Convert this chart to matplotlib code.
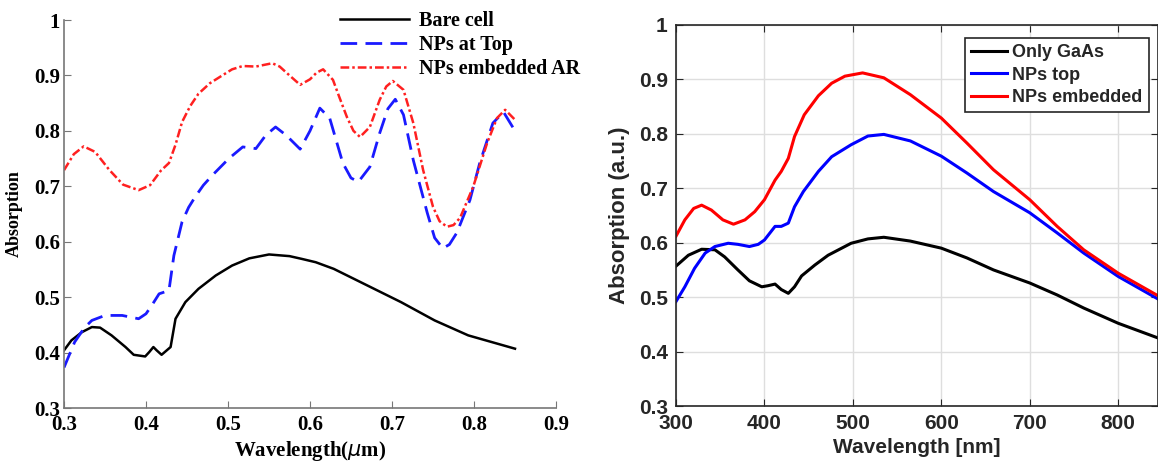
#!/usr/bin/env python3

import matplotlib
matplotlib.use("Agg")
import matplotlib.pyplot as plt

# left panel: wavelength in um
bare_x = [0.300, 0.309, 0.322, 0.334, 0.344, 0.358, 0.375, 0.385, 0.399, 0.404,
          0.409, 0.413, 0.419, 0.430, 0.436, 0.448, 0.464, 0.485, 0.505, 0.526,
          0.550, 0.575, 0.590, 0.607, 0.629, 0.670, 0.711, 0.752, 0.793, 0.850]
bare_y = [0.404, 0.422, 0.437, 0.446, 0.445, 0.431, 0.410, 0.396, 0.393, 0.401,
          0.410, 0.404, 0.396, 0.410, 0.461, 0.491, 0.515, 0.539, 0.557, 0.570,
          0.577, 0.574, 0.569, 0.563, 0.551, 0.521, 0.491, 0.458, 0.431, 0.407]

top_x = [0.300, 0.313, 0.325, 0.334, 0.350, 0.371, 0.391, 0.400, 0.407, 0.416,
         0.428, 0.434, 0.444, 0.452, 0.460, 0.470, 0.481, 0.501, 0.518, 0.534,
         0.546, 0.558, 0.571, 0.588, 0.600, 0.612, 0.624, 0.640, 0.650, 0.659,
         0.673, 0.685, 0.695, 0.704, 0.714, 0.726, 0.743, 0.752, 0.762, 0.770,
         0.779, 0.795, 0.807, 0.823, 0.836, 0.850]
top_y = [0.373, 0.419, 0.445, 0.458, 0.467, 0.467, 0.461, 0.470, 0.485, 0.506,
         0.512, 0.575, 0.636, 0.662, 0.681, 0.702, 0.720, 0.750, 0.771, 0.768,
         0.792, 0.807, 0.792, 0.767, 0.800, 0.841, 0.823, 0.742, 0.715, 0.708,
         0.735, 0.796, 0.840, 0.857, 0.829, 0.747, 0.652, 0.607, 0.588, 0.595,
         0.616, 0.675, 0.742, 0.814, 0.834, 0.800]

emb_x = [0.300, 0.312, 0.324, 0.338, 0.355, 0.372, 0.391, 0.405, 0.418, 0.428,
         0.436, 0.444, 0.454, 0.464, 0.478, 0.493, 0.505, 0.518, 0.534, 0.554,
         0.563, 0.575, 0.588, 0.600, 0.608, 0.616, 0.628, 0.636, 0.645, 0.653,
         0.661, 0.673, 0.685, 0.693, 0.701, 0.714, 0.726, 0.738, 0.750, 0.758,
         0.767, 0.775, 0.783, 0.799, 0.816, 0.828, 0.838, 0.850]
emb_y = [0.729, 0.758, 0.772, 0.762, 0.730, 0.703, 0.693, 0.702, 0.728, 0.742,
         0.775, 0.816, 0.845, 0.867, 0.886, 0.900, 0.911, 0.917, 0.916, 0.922,
         0.916, 0.900, 0.883, 0.893, 0.905, 0.911, 0.892, 0.860, 0.825, 0.800,
         0.789, 0.807, 0.856, 0.880, 0.890, 0.874, 0.814, 0.729, 0.663, 0.637,
         0.627, 0.630, 0.643, 0.699, 0.778, 0.823, 0.838, 0.820]

# right panel: wavelength in nm
gaas_x = [300, 314, 329, 344, 355, 370, 383, 397, 404, 412, 419, 427, 434, 442,
          457, 472, 498, 517, 535, 565, 600, 629, 659, 700, 731, 761, 800, 850]
gaas_y = [0.557, 0.577, 0.588, 0.587, 0.574, 0.550, 0.530, 0.519, 0.521, 0.524,
          0.514, 0.507, 0.519, 0.539, 0.559, 0.577, 0.599, 0.607, 0.610, 0.603,
          0.590, 0.572, 0.550, 0.526, 0.504, 0.480, 0.452, 0.422]

nptop_x = [300, 310, 321, 333, 344, 359, 370, 383, 393, 400, 412, 419, 427, 434,
           444, 461, 476, 498, 517, 535, 565, 600, 629, 659, 700, 731, 761, 800,
           850]
nptop_y = [0.492, 0.519, 0.553, 0.581, 0.593, 0.599, 0.597, 0.593, 0.597, 0.605,
           0.630, 0.630, 0.636, 0.666, 0.694, 0.731, 0.758, 0.780, 0.796, 0.799,
           0.787, 0.759, 0.728, 0.694, 0.655, 0.618, 0.581, 0.538, 0.492]

npemb_x = [300, 310, 320, 329, 340, 353, 365, 378, 389, 400, 412, 419, 427, 434,
           445, 461, 476, 491, 511, 535, 565, 600, 629, 659, 700, 731, 761, 800,
           850]
npemb_y = [0.612, 0.642, 0.663, 0.669, 0.660, 0.642, 0.634, 0.642, 0.657, 0.679,
           0.715, 0.731, 0.755, 0.795, 0.835, 0.870, 0.893, 0.906, 0.912, 0.903,
           0.872, 0.829, 0.783, 0.734, 0.679, 0.630, 0.587, 0.544, 0.498]

W, H = 1158, 465
fig = plt.figure(figsize=(W / 100, H / 100), dpi=100)

# ---- left panel (Times-like) ----
serif = "Liberation Serif"
axl = fig.add_axes([64 / W, 1 - 408 / H, (556 - 64) / W, (408 - 20) / H])
axl.plot(bare_x, bare_y, color="black", lw=1.8, label="Bare cell")
axl.plot(top_x, top_y, color="#1a1aff", lw=2.0, ls=(0, (6, 3)), label="NPs at Top")
axl.plot(emb_x, emb_y, color="#ff2020", lw=1.8, ls=(0, (3.5, 1.2, 1, 1.2)),
         label="NPs embedded AR")
axl.set_xlim(0.3, 0.9)
axl.set_ylim(0.3, 1.0)
axl.set_xticks([0.3, 0.4, 0.5, 0.6, 0.7, 0.8, 0.9])
axl.set_xticklabels(["0.3", "0.4", "0.5", "0.6", "0.7", "0.8", "0.9"])
axl.set_yticks([0.3, 0.4, 0.5, 0.6, 0.7, 0.8, 0.9, 1.0])
axl.set_yticklabels(["0.3", "0.4", "0.5", "0.6", "0.7", "0.8", "0.9", "1"])
for lab in axl.get_xticklabels() + axl.get_yticklabels():
    lab.set_fontfamily(serif)
    lab.set_fontweight("bold")
    lab.set_fontsize(15)
axl.tick_params(direction="in", length=5, color="#777777")
axl.tick_params(axis="x", pad=5)
axl.tick_params(axis="y", pad=3)
for s in ["top", "right"]:
    axl.spines[s].set_visible(False)
for s in ["left", "bottom"]:
    axl.spines[s].set_color("#777777")
    axl.spines[s].set_linewidth(1.2)
axl.set_xlabel(r"Wavelength($\mu$m)", fontfamily=serif, fontweight="bold",
               fontsize=15, labelpad=3)
axl.set_ylabel("Absorption", fontfamily=serif, fontweight="bold", fontsize=13,
               labelpad=8)
axl.legend(loc="upper right", bbox_to_anchor=(588 / W, 1 - 3 / H),
           bbox_transform=fig.transFigure, frameon=False,
           prop={"family": serif, "weight": "bold", "size": 14.5},
           handlelength=3.4, handletextpad=0.5, labelspacing=0.2,
           borderaxespad=0)

# ---- right panel (MATLAB-like) ----
sans = "Liberation Sans"
dark = "#262626"
axr = fig.add_axes([676 / W, 1 - 406 / H, (1158 - 676) / W, (406 - 25) / H])
axr.plot(gaas_x, gaas_y, color="black", lw=2.2, label="Only GaAs")
axr.plot(nptop_x, nptop_y, color="#0000ff", lw=2.2, label="NPs top")
axr.plot(npemb_x, npemb_y, color="#ff0000", lw=2.2, label="NPs embedded")
axr.set_xlim(300, 845)
axr.set_ylim(0.3, 1.0)
axr.set_xticks([300, 400, 500, 600, 700, 800])
axr.set_yticks([0.3, 0.4, 0.5, 0.6, 0.7, 0.8, 0.9, 1.0])
axr.set_yticklabels(["0.3", "0.4", "0.5", "0.6", "0.7", "0.8", "0.9", "1"])
axr.grid(True, color="#dedede", lw=1.0)
axr.set_axisbelow(True)
axr.tick_params(direction="in", length=5, top=True, right=True, color=dark,
                labelcolor=dark, labelsize=15, pad=6)
for lab in axr.get_xticklabels() + axr.get_yticklabels():
    lab.set_fontfamily(sans)
    lab.set_fontweight("bold")
for s in axr.spines.values():
    s.set_color(dark)
    s.set_linewidth(1.2)
axr.set_xlabel("Wavelength [nm]", fontfamily=sans, fontweight="bold",
               fontsize=15, color=dark, labelpad=3)
axr.set_ylabel("Absorption (a.u.)", fontfamily=sans, fontweight="bold",
               fontsize=16, color=dark, labelpad=6)
legr = axr.legend(loc="upper right", bbox_to_anchor=(1149 / W, 1 - 38 / H),
                  bbox_transform=fig.transFigure, fancybox=False,
                  edgecolor=dark, framealpha=1,
                  prop={"family": sans, "weight": "bold", "size": 13},
                  handlelength=2.0, handletextpad=0.3, labelspacing=0.3,
                  borderpad=0.35, borderaxespad=0)
legr.get_frame().set_linewidth(1.2)
for t in legr.get_texts():
    t.set_color(dark)

fig.savefig("out.png", dpi=100)
